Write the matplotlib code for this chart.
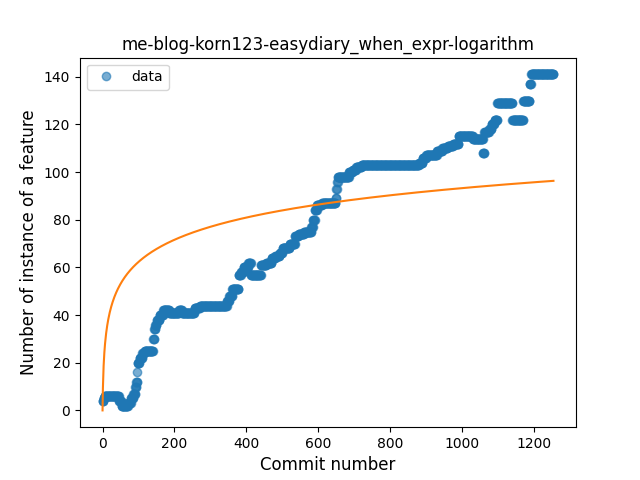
import numpy as np
import matplotlib
matplotlib.use("Agg")
import matplotlib.pyplot as plt

# last commit index of each constant segment, and its value
step_ends = [2, 5, 45, 52, 70, 78, 85, 90, 93, 96, 97, 102, 110, 116, 140,
             143, 146, 150, 158, 168, 185, 212, 220, 255, 270, 345, 352, 360,
             378, 384, 392, 405, 412, 440, 455, 470, 480, 492, 500, 520, 535,
             545, 560, 580, 585, 590, 596, 610, 648, 650, 652, 654, 685, 695,
             705, 720, 880, 890, 900, 930, 945, 960, 975, 990, 1030, 1058,
             1062, 1075, 1082, 1090, 1098, 1140, 1170, 1188, 1192, 1255]
step_values = [4, 5, 6, 4, 2, 3, 5, 7, 10, 12, 16, 20, 22, 24, 25,
               30, 34, 36, 38, 40, 42, 41, 42, 41, 43, 44, 46, 48,
               51, 57, 58, 60, 62, 57, 61, 62, 64, 65, 66, 68, 70,
               73, 74, 75, 77, 80, 84, 86, 87, 89, 93, 96, 98, 100,
               101, 102, 103, 104, 106, 107, 109, 110, 111, 112, 115, 114,
               108, 117, 118, 120, 122, 129, 122, 130, 137, 141]

# logarithmic model coefficients: y = fit_a * ln(x) + fit_b
fit_a = 13.5
fit_b = 0.0

counts = np.diff([-1] + step_ends)
y = np.repeat(step_values, counts)
x = np.arange(len(y))

fig, ax = plt.subplots(figsize=(6.4, 4.8), dpi=100)
ax.plot(x, y, 'o', alpha=0.6, label='data')
xf = x + 1
ax.plot(x, fit_a * np.log(xf) + fit_b)
ax.set_title('me-blog-korn123-easydiary_when_expr-logarithm')
ax.set_xlabel('Commit number', fontsize=12)
ax.set_ylabel('Number of instance of a feature', fontsize=12)
ax.legend(loc='upper left')
fig.savefig('out.png')
